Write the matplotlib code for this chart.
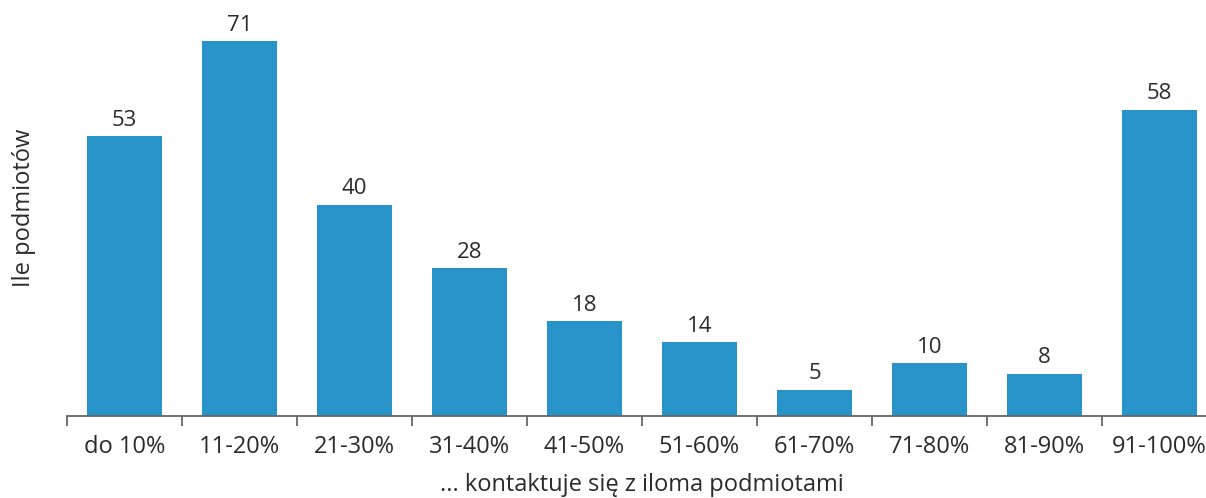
import matplotlib.pyplot as plt
import numpy as np

plt.rcParams['font.family'] = ['Open Sans', 'DejaVu Sans']

categories = ["do 10%", "11-20%", "21-30%", "31-40%", "41-50%",
              "51-60%", "61-70%", "71-80%", "81-90%", "91-100%"]
counts = [53, 71, 40, 28, 18, 14, 5, 10, 8, 58]

text_color = "#2b2b2b"
bar_color = "#2893c8"

fig = plt.figure(figsize=(12.06, 4.98), dpi=100)
ax = fig.add_axes([67 / 1206, 82 / 498, 1150 / 1206, 416 / 498])

x = np.arange(len(categories))
ax.bar(x, counts, width=0.66, color=bar_color)

for xi, v in zip(x, counts):
    ax.text(xi, v + 1.0, str(v), ha="center", va="bottom",
            fontsize=16, color=text_color)

ax.set_xlim(-0.5, len(categories) - 0.5)
ax.set_ylim(0, 71 * 416 / 375)

for side in ["top", "right", "left"]:
    ax.spines[side].set_visible(False)
ax.spines["bottom"].set_color("#666666")
ax.spines["bottom"].set_linewidth(1.3)

ax.set_yticks([])
ax.set_xticks(x)
ax.set_xticklabels(categories, fontsize=17, color=text_color)
ax.tick_params(axis="x", which="major", length=0, pad=14)
ax.set_xticks(np.arange(-0.5, len(categories)), minor=True)
ax.tick_params(axis="x", which="minor", length=7, width=1.3, color="#666666")

ax.set_xlabel("... kontaktuje się z iloma podmiotami", fontsize=17,
              color=text_color, labelpad=10)
ax.set_ylabel("Ile podmiotów", fontsize=17, color=text_color, labelpad=22)

fig.savefig("out.png", dpi=100)
